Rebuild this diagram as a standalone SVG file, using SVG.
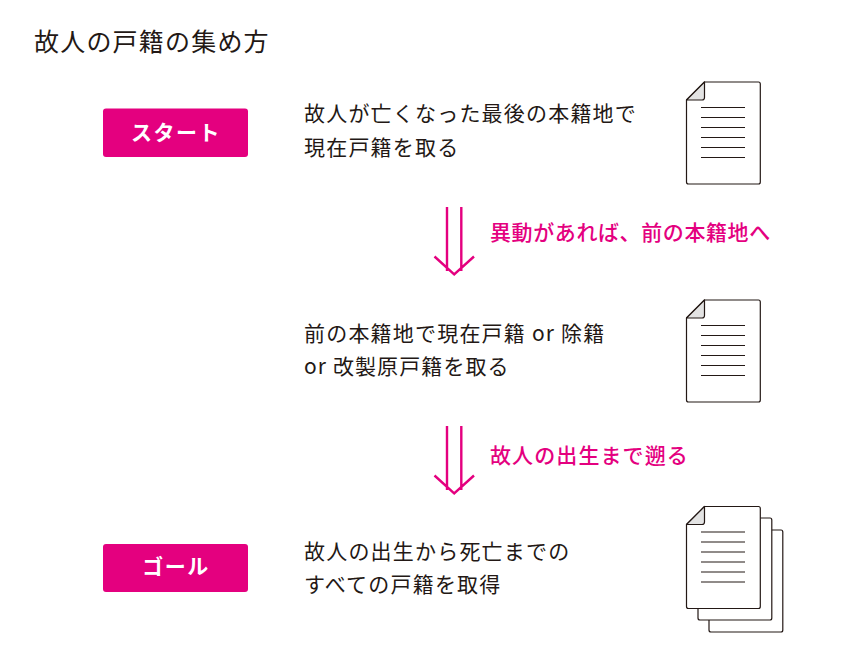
<svg xmlns="http://www.w3.org/2000/svg" width="847" height="669" viewBox="0 0 847 669">
<style>
text{font-family:"Noto Sans CJK JP","Noto Sans",sans-serif}
.t{font-size:25px;fill:#231815;letter-spacing:1.2px}
.b{font-size:21px;fill:#231815;letter-spacing:1.2px}
.p{font-size:21px;fill:#e4007f;font-weight:500;letter-spacing:.6px}
.l{font-size:21px;fill:#fff;font-weight:700;letter-spacing:1.5px;text-anchor:middle}
.btn{fill:#e4007f}
.sheet{fill:#fff;stroke:#231815;stroke-width:1.2;stroke-linejoin:round}
.fold{fill:#e3e3e3;stroke:#231815;stroke-width:1.2;stroke-linejoin:round}
.rule{stroke:#231815;stroke-width:1.2}
.arr{fill:none;stroke:#e4007f;stroke-width:2.4}
</style>
<defs>
<g id="doc">
<path class="sheet" d="M704.500 82H758.500Q760.300 82 760.300 84V182Q760.300 184 758.500 184H688.500Q686.500 184 686.500 182V100Z"/>
<path class="fold" d="M704.500 82V97.500Q704.500 100 702 100H686.500Z"/>
<path class="rule" d="M701 107.500H745M701 117.500H745M701 127.500H745M701 137.500H745M701 147.500H745M701 157.500H745"/>
</g>
<path id="arrow" class="arr" d="M447 207V271M461.300 207V271M434.500 256.500L454.200 274.500L474 256.500"/>
</defs>
<text class="t" x="34" y="51">故人の戸籍の集め方</text>
<g id="start"><rect class="btn" x="103" y="108.500" width="145" height="48.500" rx="3"/><text class="l" x="176" y="140">スタート</text></g>
<g id="step1"><text class="b" x="304" y="121">故人が亡くなった最後の本籍地で</text><text class="b" x="304" y="155">現在戸籍を取る</text></g>
<g id="doc1"><use href="#doc"/></g>
<g id="step2"><text class="b" x="304" y="341">前の本籍地で現在戸籍 or 除籍</text><text class="b" x="304" y="374" style="letter-spacing:1.100px">or 改製原戸籍を取る</text></g>
<g id="doc2"><use href="#doc" y="218"/></g>
<g id="goal"><rect class="btn" x="103" y="544" width="145" height="48" rx="3"/><text class="l" x="176" y="574">ゴール</text></g>
<g id="step3"><text class="b" x="304" y="559">故人の出生から死亡までの</text><text class="b" x="304" y="592">すべての戸籍を取得</text></g>
<g id="doc3">
<use href="#doc" x="22.500" y="448"/>
<use href="#doc" x="11.500" y="436"/>
<use href="#doc" y="424.500"/>
</g>
<g id="connectors">
<use href="#arrow"/>
<use href="#arrow" y="219"/>
<text class="p" x="490" y="240">異動があれば、前の本籍地へ</text>
<text class="p" x="490" y="463" style="letter-spacing:1.100px">故人の出生まで遡る</text>
</g>
</svg>
